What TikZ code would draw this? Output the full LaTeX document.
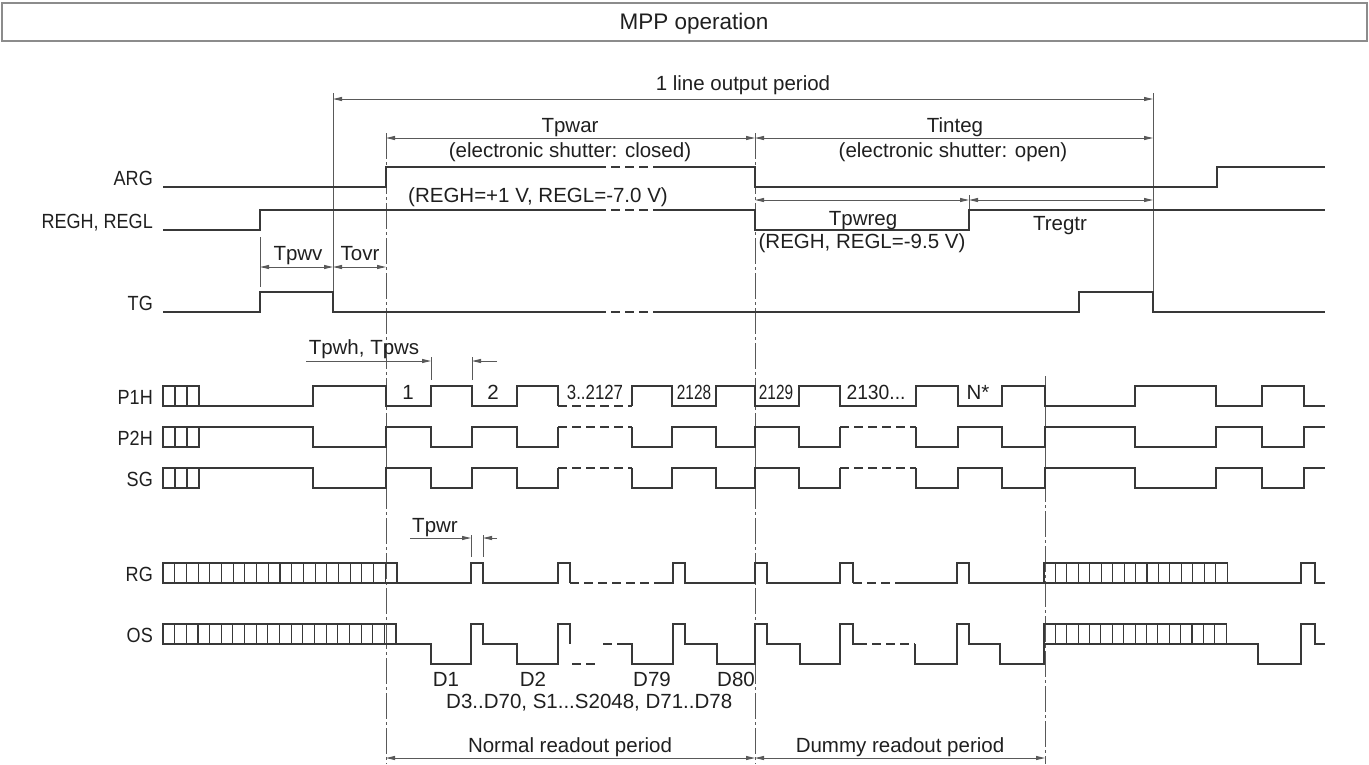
\documentclass[tikz,border=0pt]{standalone}
\usepackage{fontspec}
\setmainfont{Liberation Sans}
\usepackage{graphicx}
\usetikzlibrary{arrows.meta}

\begin{document}
\begin{tikzpicture}[x=1pt,y=-1pt,
    sig/.style={line width=1.4pt,black!78},
    dsig/.style={sig,dash pattern=on 9pt off 5pt},
    guide/.style={line width=0.9pt,black!65,dash pattern=on 26pt off 3pt on 3pt off 3pt},
    ext/.style={line width=0.9pt,black!65},
    dim/.style={ext,{Triangle[length=9pt,width=4pt]}-{Triangle[length=9pt,width=4pt]}},
    dimr/.style={ext,-{Triangle[length=9pt,width=4pt]}},
    txt/.style={inner sep=0pt,anchor=base,text=black!88,font=\fontsize{20.5}{24}\selectfont},
    sname/.style={txt,anchor=base east}]
  \useasboundingbox (0,0) rectangle (1369,764);
  \newcommand{\drawCells}[5]{ \pgfmathtruncatemacro{\nc}{#3-1}
    \draw[sig,line width=1.1pt] (#1,#4) rectangle ({#1+#2*#3},#5);
    \foreach \k in {1,...,\nc} {\draw[sig,line width=1.1pt] ({#1+#2*\k},#4) -- ({#1+#2*\k},#5);} }
  \newcommand{\drawPhase}[2]{ \drawCells{163}{12}{3}{#1}{#2}
    \draw[sig] (199,#1) -| (313,#2) -| (386,#1) -| (431,#2) -| (472,#1) -| (517,#2) -| (558,#1);
    \draw[dsig] (558,#1) -- (632,#1);
    \draw[sig] (632,#1) -- (632,#2) -| (672,#1) -| (716,#2) -| (755,#1) -| (799,#2) -| (840,#1);
    \draw[dsig] (840,#1) -- (916,#1);
    \draw[sig] (916,#1) -- (916,#2) -| (958,#1) -| (1002,#2) -| (1045,#1) -| (1135,#2) -| (1216,#1)
      -| (1262,#2) -| (1304,#1) -- (1325,#1); }
  \newcommand{\sig}[1]{\scalebox{0.88}[1]{#1}}

  % title bar
  \draw[line width=1.5pt,black!45] (2,3) rectangle (1367,41);
  \node[txt,font=\fontsize{22.5}{26}\selectfont] (title) at (694,29) {MPP operation};

  % signal names
  \node[sname] (nARG) at (153,185) {\sig{ARG}};
  \node[sname] (nREG) at (153,228) {\sig{REGH, REGL}};
  \node[sname] (nTG) at (153,310) {\sig{TG}};
  \node[sname] (nP1H) at (153,404) {\sig{P1H}};
  \node[sname] (nP2H) at (153,445) {\sig{P2H}};
  \node[sname] (nSG) at (153,486) {\sig{SG}};
  \node[sname] (nRG) at (153,581) {\sig{RG}};
  \node[sname] (nOS) at (153,642) {\sig{OS}};

  % guide lines
  \draw[ext] (333,93) -- (333,312);
  \draw[ext] (1153,93) -- (1153,312);
  \draw[ext] (260,237) -- (260,287);
  \draw[ext] (969,195) -- (969,210);
  \draw[guide] (386,133) -- (386,764);
  \draw[guide] (755,133) -- (755,764);
  \draw[ext] (1045,376) -- (1045,386);
  \draw[guide] (1045,406) -- (1045,764);

  % ARG, REGH/REGL, TG
  \draw[sig] (163,187) -| (386,167) -- (597,167);
  \draw[dsig] (597,167) -- (657,167);
  \draw[sig] (657,167) -| (755,187) -| (1217,167) -- (1325,167);
  \draw[sig] (163,230) -| (260,210) -- (597,210);
  \draw[dsig] (597,210) -- (657,210);
  \draw[sig] (657,210) -| (755,230) -| (969,210) -- (1325,210);
  \draw[sig] (163,312) -| (260,292) -| (333,312) -- (597,312);
  \draw[dsig] (597,312) -- (657,312);
  \draw[sig] (657,312) -| (1079,292) -| (1153,312) -- (1325,312);

  % P1H
  \drawCells{163}{12}{3}{386}{406}
  \draw[sig] (199,406) -| (313,386) -| (386,406) -| (431,386) -| (472,406) -| (517,386) -| (558,406);
  \draw[dsig] (558,406) -- (632,406);
  \draw[sig] (632,406) -- (632,386) -| (672,406) -| (716,386) -| (755,406) -| (799,386) -| (840,406)
    -| (916,386) -| (958,406) -| (1002,386) -| (1045,406) -| (1135,386) -| (1216,406) -| (1262,386)
    -| (1304,406) -- (1325,406);
  % P2H, SG
  \drawPhase{427}{447}
  \drawPhase{468}{488}

  % RG
  \drawCells{163}{11.7}{20}{563}{583}
  \draw[sig] (397,583) -| (471,563) -| (483,583) -| (558,563) -| (570,583);
  \draw[dsig] (570,583) -- (656,583);
  \draw[sig] (656,583) -| (673,563) -| (685,583) -| (755,563) -| (767,583) -| (840,563) -| (853,583);
  \draw[dsig] (853,583) -- (904,583);
  \draw[sig] (904,583) -| (957,563) -| (969,583) -- (1044,583);
  \drawCells{1044}{11.44}{16}{563}{583}
  \draw[sig] (1227,583) -| (1301,563) -| (1315,583) -- (1325,583);

  % OS
  \drawCells{163}{11.65}{20}{624}{644}
  \draw[sig] (396,644) -| (431,664) -| (471,624) -| (483,644) -| (517,664) -| (558,624) -| (570,644);
  \draw[dsig] (572,664) -- (598,664);
  \draw[dsig] (603,644) -- (620,644);
  \draw[sig] (620,644) -| (632,664) -| (673,624) -| (685,644) -| (717,664) -| (755,624) -| (767,644)
    -| (800,664) -| (840,624) -| (853,644) -- (858,644);
  \draw[dsig] (858,644) -- (915,644);
  \draw[sig] (915,644) -- (915,664) -| (957,624) -| (969,644) -| (1000,664) -| (1044,624);
  \drawCells{1044}{11.38}{16}{624}{644}
  \draw[sig] (1226,644) -| (1258,664) -| (1301,624) -| (1315,644) -- (1325,644);

  % periods
  \draw[dim] (333,99) -- (1153,99);
  \node[txt] (tLine) at (743,90) {1 line output period};
  \draw[dim] (386,138) -- (755,138);
  \draw[dim] (755,138) -- (1153,138);
  \node[txt] (tPwar) at (570,132) {Tpwar};
  \node[txt] (tClosed) at (570,157) {(electronic shutter: closed)};
  \node[txt] (tInteg) at (955,132) {Tinteg};
  \node[txt] (tOpen) at (953,157) {(electronic shutter: open)};
  \node[txt,anchor=base west] (tRegA) at (408,202) {(REGH=+1 V, REGL=-7.0 V)};
  \draw[dim] (755,200) -- (969,200);
  \draw[dim] (969,200) -- (1153,200);
  \node[txt] (tPwreg) at (863,225) {Tpwreg};
  \node[txt] (tRegB) at (862,248) {(REGH, REGL=-9.5 V)};
  \node[txt] (tRegtr) at (1060,230) {Tregtr};
  \draw[dim] (260,267) -- (333,267);
  \draw[dim] (333,267) -- (386,267);
  \node[txt] (tPwv) at (298,260) {Tpwv};
  \node[txt] (tOvr) at (360,260) {Tovr};

  % clock widths
  \node[txt] (tPwh) at (364,354) {Tpwh, Tpws};
  \draw[dimr] (306,361) -- (431,361);
  \draw[dimr] (497,361) -- (472,361);
  \draw[ext] (431,357) -- (431,380);
  \draw[ext] (472,357) -- (472,380);
  \node[txt] (tPwr) at (435,532) {Tpwr};
  \draw[dimr] (410,538) -- (471,538);
  \draw[dimr] (497,538) -- (483,538);
  \draw[ext] (471,535) -- (471,557);
  \draw[ext] (483,535) -- (483,557);

  % pixel numbers
  \node[txt] (c1) at (408,399) {1};
  \node[txt] (c2) at (493,399) {2};
  \node[txt] (c3) at (595,399) {\scalebox{0.82}[1]{3..2127}};
  \node[txt] (c2128) at (694,399) {\scalebox{0.75}[1]{2128}};
  \node[txt] (c2129) at (776,399) {\scalebox{0.75}[1]{2129}};
  \node[txt] (c2130) at (876,399) {\scalebox{0.94}[1]{2130...}};
  \node[txt] (cN) at (978,399) {N*};

  % output data
  \node[txt] (d1) at (446,686) {D1};
  \node[txt] (d2) at (533,686) {D2};
  \node[txt] (d79) at (652,686) {D79};
  \node[txt] (d80) at (736,686) {D80};
  \node[txt,anchor=base west] (dRest) at (446,708) {D3..D70, S1...S2048, D71..D78};
  \draw[dim] (386,758) -- (755,758);
  \draw[dim] (755,758) -- (1045,758);
  \node[txt] (tNormal) at (570,752) {Normal readout period};
  \node[txt] (tDummy) at (900,752) {Dummy readout period};
\end{tikzpicture}
\end{document}
